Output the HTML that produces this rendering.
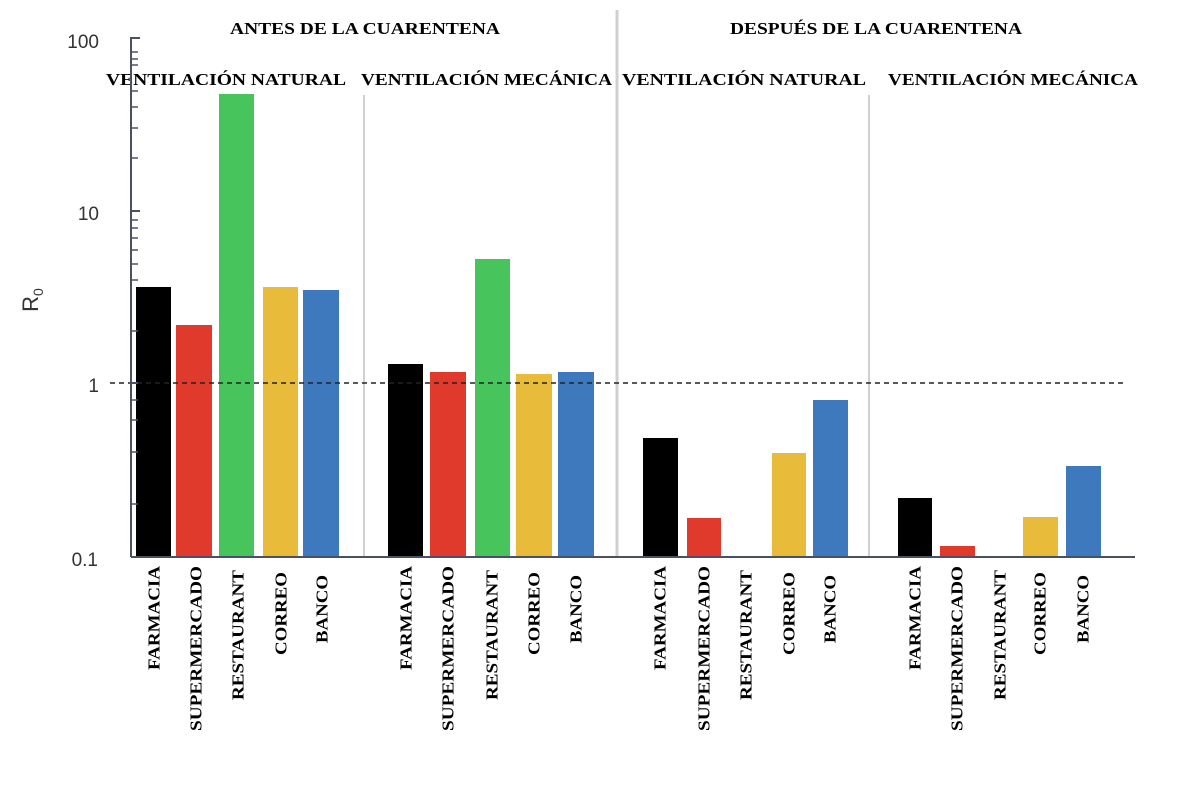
<!DOCTYPE html>
<html><head><meta charset="utf-8"><style>body{margin:0;background:#fff}svg{display:block}</style></head><body>
<svg width="1183" height="796" xmlns="http://www.w3.org/2000/svg">
<rect width="1183" height="796" fill="#fff"/>
<g stroke="#d0d0d0" stroke-width="2">
<line x1="364" y1="95" x2="364" y2="557"/>
<line x1="617" y1="10" x2="617" y2="557" stroke-width="3"/>
<line x1="869" y1="95" x2="869" y2="557"/>
</g>
<g font-family="Liberation Serif, serif" font-weight="bold" fill="#000">
<text x="230" y="34" font-size="17" textLength="270" lengthAdjust="spacingAndGlyphs">ANTES DE LA CUARENTENA</text>
<text x="730" y="34" font-size="17" textLength="292" lengthAdjust="spacingAndGlyphs">DESPUÉS DE LA CUARENTENA</text>
<text x="106" y="85" font-size="17" textLength="240" lengthAdjust="spacingAndGlyphs">VENTILACIÓN NATURAL</text>
<text x="361" y="85" font-size="17" textLength="251" lengthAdjust="spacingAndGlyphs">VENTILACIÓN MECÁNICA</text>
<text x="622" y="85" font-size="17" textLength="244" lengthAdjust="spacingAndGlyphs">VENTILACIÓN NATURAL</text>
<text x="888" y="85" font-size="17" textLength="250" lengthAdjust="spacingAndGlyphs">VENTILACIÓN MECÁNICA</text>
</g>
<!-- bars -->
<g>
<rect x="136" y="287" width="35" height="270" fill="#000"/>
<rect x="176" y="325" width="36" height="232" fill="#e03a2c"/>
<rect x="219" y="94" width="35" height="463" fill="#48c45c"/>
<rect x="263" y="287" width="35" height="270" fill="#e9bb3a"/>
<rect x="303" y="290" width="36" height="267" fill="#3f79bd"/>
<rect x="388" y="364" width="35" height="193" fill="#000"/>
<rect x="430" y="372" width="36" height="185" fill="#e03a2c"/>
<rect x="475" y="259" width="35" height="298" fill="#48c45c"/>
<rect x="516" y="374" width="36" height="183" fill="#e9bb3a"/>
<rect x="558" y="372" width="36" height="185" fill="#3f79bd"/>
<rect x="643" y="438" width="35" height="119" fill="#000"/>
<rect x="687" y="518" width="34" height="39" fill="#e03a2c"/>
<rect x="772" y="453" width="34" height="104" fill="#e9bb3a"/>
<rect x="813" y="400" width="35" height="157" fill="#3f79bd"/>
<rect x="898" y="498" width="34" height="59" fill="#000"/>
<rect x="940" y="546" width="35" height="11" fill="#e03a2c"/>
<rect x="1023" y="517" width="35" height="40" fill="#e9bb3a"/>
<rect x="1066" y="466" width="35" height="91" fill="#3f79bd"/>
</g>
<line x1="110" y1="383" x2="1125" y2="383" stroke="#222" stroke-width="1.5" stroke-dasharray="5,4"/>
<!-- axes -->
<g stroke="#4a5068" stroke-width="2">
<line x1="131" y1="37" x2="131" y2="557"/>
<line x1="131" y1="557" x2="1135" y2="557"/>
<line x1="131" y1="38" x2="140" y2="38"/>
<line x1="131" y1="211" x2="140" y2="211"/>
<line x1="131" y1="383" x2="138" y2="383"/>
</g>
<g stroke="#4a5068" stroke-width="1.5">
<line x1="131" y1="52" x2="138" y2="52"/><line x1="131" y1="59" x2="138" y2="59"/><line x1="131" y1="65" x2="138" y2="65"/>
<line x1="131" y1="91" x2="138" y2="91"/><line x1="131" y1="107" x2="138" y2="107"/><line x1="131" y1="128" x2="138" y2="128"/><line x1="131" y1="158" x2="138" y2="158"/>
<line x1="131" y1="220" x2="138" y2="220"/><line x1="131" y1="228" x2="138" y2="228"/><line x1="131" y1="238" x2="138" y2="238"/><line x1="131" y1="250" x2="138" y2="250"/><line x1="131" y1="264" x2="138" y2="264"/><line x1="131" y1="280" x2="138" y2="280"/><line x1="131" y1="331" x2="138" y2="331"/>
<line x1="131" y1="400" x2="138" y2="400"/><line x1="131" y1="420" x2="138" y2="420"/><line x1="131" y1="452" x2="138" y2="452"/><line x1="131" y1="504" x2="138" y2="504"/>
</g>
<g font-family="Liberation Sans, sans-serif" font-size="19" fill="#333" text-anchor="end">
<text x="99" y="48">100</text>
<text x="99" y="220">10</text>
<text x="99" y="392">1</text>
<text x="98" y="566">0.1</text>
</g>
<g transform="translate(38,300) rotate(-90)" font-family="Liberation Sans, sans-serif" fill="#333">
<text x="0" y="0" font-size="22" text-anchor="middle">R<tspan font-size="14" dy="5">0</tspan></text>
</g>
<g font-family="Liberation Serif, serif" font-weight="bold" font-size="17" fill="#000" text-anchor="end" dominant-baseline="central">
<text transform="translate(154,566) rotate(-90)" textLength="104" lengthAdjust="spacingAndGlyphs">FARMACIA</text>
<text transform="translate(196,566) rotate(-90)" textLength="165" lengthAdjust="spacingAndGlyphs">SUPERMERCADO</text>
<text transform="translate(238,570) rotate(-90)" textLength="130" lengthAdjust="spacingAndGlyphs">RESTAURANT</text>
<text transform="translate(281,572) rotate(-90)" textLength="83" lengthAdjust="spacingAndGlyphs">CORREO</text>
<text transform="translate(322,575) rotate(-90)" textLength="68" lengthAdjust="spacingAndGlyphs">BANCO</text>
<text transform="translate(406,566) rotate(-90)" textLength="104" lengthAdjust="spacingAndGlyphs">FARMACIA</text>
<text transform="translate(448,566) rotate(-90)" textLength="165" lengthAdjust="spacingAndGlyphs">SUPERMERCADO</text>
<text transform="translate(492,570) rotate(-90)" textLength="130" lengthAdjust="spacingAndGlyphs">RESTAURANT</text>
<text transform="translate(534,572) rotate(-90)" textLength="83" lengthAdjust="spacingAndGlyphs">CORREO</text>
<text transform="translate(576,575) rotate(-90)" textLength="68" lengthAdjust="spacingAndGlyphs">BANCO</text>
<text transform="translate(660,566) rotate(-90)" textLength="104" lengthAdjust="spacingAndGlyphs">FARMACIA</text>
<text transform="translate(704,566) rotate(-90)" textLength="165" lengthAdjust="spacingAndGlyphs">SUPERMERCADO</text>
<text transform="translate(746,570) rotate(-90)" textLength="130" lengthAdjust="spacingAndGlyphs">RESTAURANT</text>
<text transform="translate(789,572) rotate(-90)" textLength="83" lengthAdjust="spacingAndGlyphs">CORREO</text>
<text transform="translate(830,575) rotate(-90)" textLength="68" lengthAdjust="spacingAndGlyphs">BANCO</text>
<text transform="translate(915,566) rotate(-90)" textLength="104" lengthAdjust="spacingAndGlyphs">FARMACIA</text>
<text transform="translate(957,566) rotate(-90)" textLength="165" lengthAdjust="spacingAndGlyphs">SUPERMERCADO</text>
<text transform="translate(1000,570) rotate(-90)" textLength="130" lengthAdjust="spacingAndGlyphs">RESTAURANT</text>
<text transform="translate(1040,572) rotate(-90)" textLength="83" lengthAdjust="spacingAndGlyphs">CORREO</text>
<text transform="translate(1083,575) rotate(-90)" textLength="68" lengthAdjust="spacingAndGlyphs">BANCO</text>
</g>
</svg>
</body></html>
